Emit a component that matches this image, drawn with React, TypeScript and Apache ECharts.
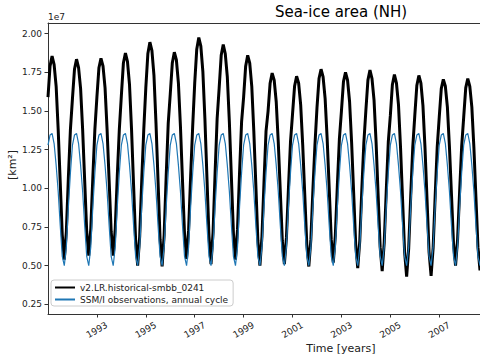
import React, { useEffect, useRef } from "react";
import * as echarts from "echarts";

const years = [1991, 1992, 1993, 1994, 1995, 1996, 1997, 1998, 1999, 2000, 2001, 2002, 2003, 2004, 2005, 2006, 2007, 2008];

// Model monthly sea-ice area (units of 1e7 km^2), Jan..Dec per year
const model1991 = [1.59, 1.79, 1.855, 1.80, 1.66, 1.38, 1.04, 0.70, 0.54, 0.72, 1.07, 1.38];
const model1992 = [1.58, 1.77, 1.835, 1.78, 1.645, 1.38, 1.05, 0.72, 0.565, 0.74, 1.07, 1.38];
const model1993 = [1.59, 1.78, 1.84, 1.79, 1.65, 1.38, 1.05, 0.72, 0.565, 0.74, 1.08, 1.38];
const model1994 = [1.60, 1.81, 1.875, 1.82, 1.67, 1.38, 1.02, 0.665, 0.50, 0.69, 1.05, 1.38];
const model1995 = [1.65, 1.87, 1.945, 1.89, 1.73, 1.42, 1.05, 0.67, 0.495, 0.70, 1.08, 1.42];
const model1996 = [1.61, 1.81, 1.88, 1.83, 1.68, 1.40, 1.05, 0.705, 0.545, 0.73, 1.08, 1.40];
const model1997 = [1.68, 1.90, 1.975, 1.92, 1.755, 1.45, 1.07, 0.69, 0.51, 0.715, 1.10, 1.45];
const model1998 = [1.65, 1.86, 1.93, 1.87, 1.72, 1.43, 1.07, 0.71, 0.54, 0.735, 1.10, 1.43];
const model1999 = [1.59, 1.79, 1.86, 1.81, 1.66, 1.37, 1.02, 0.66, 0.50, 0.69, 1.04, 1.37];
const model2000 = [1.50, 1.68, 1.745, 1.70, 1.56, 1.30, 0.98, 0.66, 0.51, 0.68, 1.00, 1.30];
const model2001 = [1.48, 1.66, 1.725, 1.68, 1.54, 1.28, 0.96, 0.64, 0.495, 0.67, 0.99, 1.28];
const model2002 = [1.52, 1.71, 1.77, 1.72, 1.58, 1.32, 1.00, 0.67, 0.52, 0.695, 1.02, 1.32];
const model2003 = [1.50, 1.69, 1.75, 1.70, 1.56, 1.295, 0.97, 0.64, 0.485, 0.66, 0.99, 1.295];
const model2004 = [1.505, 1.70, 1.765, 1.71, 1.57, 1.30, 0.96, 0.62, 0.465, 0.65, 0.985, 1.30];
const model2005 = [1.47, 1.67, 1.735, 1.68, 1.54, 1.265, 0.93, 0.59, 0.43, 0.61, 0.95, 1.265];
const model2006 = [1.47, 1.665, 1.73, 1.68, 1.535, 1.265, 0.93, 0.59, 0.435, 0.615, 0.95, 1.265];
const model2007 = [1.46, 1.645, 1.705, 1.66, 1.525, 1.27, 0.96, 0.645, 0.50, 0.67, 0.98, 1.27];
const model2008 = [1.46, 1.65, 1.71, 1.66, 1.525, 1.265, 0.94, 0.62, 0.47, 0.645];

const modelByYear = [
  model1991, model1992, model1993, model1994, model1995, model1996, model1997, model1998, model1999,
  model2000, model2001, model2002, model2003, model2004, model2005, model2006, model2007, model2008,
];

// SSM/I observed climatological annual cycle (units of 1e7 km^2), Jan..Dec
const obsCycle = [1.28, 1.345, 1.355, 1.29, 1.15, 0.98, 0.76, 0.56, 0.50, 0.62, 0.88, 1.10];

const yTicks = [0.25, 0.5, 0.75, 1.0, 1.25, 1.5, 1.75, 2.0];
const xTicks = [1993, 1995, 1997, 1999, 2001, 2003, 2005, 2007];

const modelName = "v2.LR.historical-smbb_0241";
const obsName = "SSM/I observations, annual cycle";

const FONT = "DejaVu Sans";

export default function App() {
  const ref = useRef<HTMLDivElement>(null);
  useEffect(() => {
    if (!ref.current) return;
    const chart = echarts.init(ref.current, undefined, { renderer: "svg" });

    const modelData: number[][] = [];
    const obsData: number[][] = [];
    years.forEach((y, i) => {
      modelByYear[i].forEach((v, m) => modelData.push([y + m / 12, v]));
      modelByYear[i].forEach((_, m) => obsData.push([y + m / 12, obsCycle[m]]));
    });

    const axisColor = "#333";
    chart.setOption({
      animation: false,
      textStyle: { fontFamily: FONT },
      grid: { left: 48, top: 23, right: 0, bottom: 46, containLabel: false },
      xAxis: [
        {
          type: "value",
          min: 1991,
          max: 2008 + 8 / 12,
          splitLine: { show: false },
          axisLine: { show: true, lineStyle: { color: axisColor, width: 1 } },
          axisTick: { show: true, length: 3.5, lineStyle: { color: axisColor }, customValues: xTicks },
          axisLabel: {
            customValues: xTicks,
            rotate: 30,
            align: "center",
            verticalAlign: "middle",
            margin: 16,
            fontSize: 9,
            color: "#222",
            fontFamily: FONT,
            formatter: (v: number) => String(Math.round(v)),
          },
        },
        {
          type: "value",
          position: "top",
          min: 1991,
          max: 2008 + 8 / 12,
          splitLine: { show: false },
          axisLine: { show: true, lineStyle: { color: axisColor, width: 1 } },
          axisTick: { show: false },
          axisLabel: { show: false },
        },
      ],
      yAxis: {
        type: "value",
        min: 0.188,
        max: 2.069,
        splitLine: { show: false },
        axisLine: { show: true, lineStyle: { color: axisColor, width: 1 } },
        axisTick: { show: true, length: 3.5, lineStyle: { color: axisColor }, customValues: yTicks },
        axisLabel: {
          customValues: yTicks,
          margin: 6,
          fontSize: 9,
          color: "#222",
          fontFamily: FONT,
          formatter: (v: number) => v.toFixed(2),
        },
      },
      legend: {
        orient: "vertical",
        left: 51,
        top: 280,
        backgroundColor: "rgba(255,255,255,0.85)",
        borderColor: "#ccc",
        borderWidth: 1,
        borderRadius: 3,
        padding: [3, 5, 2, 3],
        itemGap: 3,
        itemWidth: 20,
        itemHeight: 9,
        itemStyle: { opacity: 0 },
        textStyle: { fontSize: 9, color: "#222", fontFamily: FONT },
        data: [modelName, obsName],
      },
      series: [
        {
          name: modelName,
          type: "line",
          data: modelData,
          symbol: "none",
          clip: true,
          lineStyle: { color: "#000", width: 3 },
          itemStyle: { color: "#000" },
          z: 2,
        },
        {
          name: obsName,
          type: "line",
          data: obsData,
          symbol: "none",
          clip: true,
          lineStyle: { color: "#1f77b4", width: 1.2 },
          itemStyle: { color: "#1f77b4" },
          z: 3,
        },
      ],
      graphic: [
        {
          type: "text",
          x: 341,
          y: 12,
          style: { text: "Sea-ice area (NH)", fontSize: 15, fill: "#000", fontFamily: FONT, align: "center", verticalAlign: "middle" },
        },
        {
          type: "text",
          x: 48,
          y: 17,
          style: { text: "1e7", fontSize: 9, fill: "#222", fontFamily: FONT, align: "left", verticalAlign: "middle" },
        },
        {
          type: "text",
          x: 341,
          y: 348,
          style: { text: "Time [years]", fontSize: 11, fill: "#222", fontFamily: FONT, align: "center", verticalAlign: "middle" },
        },
        {
          type: "text",
          x: 12,
          y: 165,
          rotation: Math.PI / 2,
          style: { text: "[km²]", fontSize: 11, fill: "#222", fontFamily: FONT, align: "center", verticalAlign: "middle" },
        },
      ],
    });
    return () => chart.dispose();
  }, []);
  return <div ref={ref} style={{ position: "absolute", left: 0, top: 0, width: 480, height: 360 }} />;
}
